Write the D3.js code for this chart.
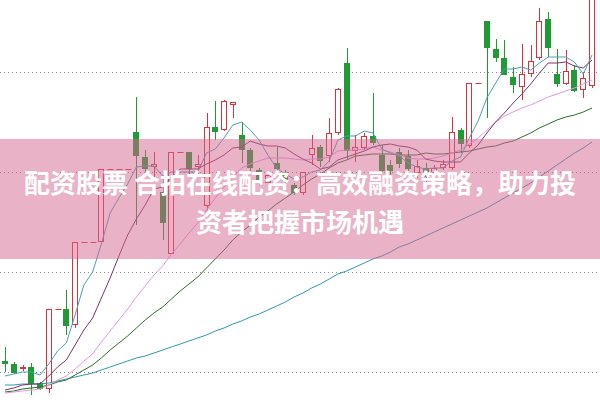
<!DOCTYPE html>
<html><head><meta charset="utf-8">
<script src="https://cdn.jsdelivr.net/npm/d3@7"></script>
<style>html,body{margin:0;padding:0;background:#fff;}svg{display:block;}</style>
</head><body>
<svg id="chart" width="600" height="400"></svg>
<script>
// Price values in index points (one point per screen unit of the original chart)
const days = d3.range(68);
const openP  = [39,36,32,33,17,12,91,91,76,158,158,159,231,231,231,268,243,234,208,147,248,248,234,195,273,271,296,265,250,230,218,237,228,215,208,246,253,245,268,337,250,253,264,245,235,248,244,228,232,228,233,233,270,255,317,379,351,342,323,314,327,343,381,326,317,330,311,315];
const highP  = [53,38,35,37,18,91,91,110,158,158,158,231,231,231,231,303,250,248,225,248,248,248,245,287,299,300,298,278,252,232,228,253,230,217,228,265,255,282,312,352,265,267,307,255,240,252,250,240,237,235,240,283,272,317,317,379,361,360,333,356,355,392,388,351,350,335,328,415];
const lowP   = [28,26,29,5,10,7,91,65,72,158,158,159,231,231,231,175,225,223,160,147,248,223,223,187,260,269,282,237,228,215,212,230,214,205,205,235,233,238,265,240,238,250,255,228,225,232,225,222,218,222,230,230,247,252,317,282,338,325,307,300,323,340,343,313,315,308,302,312];
const closeP = [37,28,33,17,12,91,91,75,158,158,158,231,231,231,231,245,232,236,178,248,248,232,236,273,269,299,298,251,233,220,225,232,220,208,228,252,240,267,311,250,253,264,258,230,230,237,232,234,224,232,236,268,257,317,317,353,343,326,316,326,339,379,353,317,329,310,322,410];

const ma5  = [24,26,28,28,25,36,49,57,85,115,128,156,187,202,216,233,234,234,224,228,228,228,228,247,251,262,275,278,270,260,245,232,226,221,223,228,230,239,260,264,264,269,267,251,247,244,237,233,231,232,232,239,243,262,279,302,317,331,331,333,330,337,343,343,343,338,326,345];
const ma10 = [10,12,15,16,16,24,33,40,55,70,82,102,122,144,165,181,195,211,213,222,231,231,231,236,240,245,252,253,259,256,254,254,252,246,241,237,231,233,240,243,246,249,253,255,256,254,253,250,241,239,238,238,238,247,255,267,278,287,297,306,316,327,337,337,338,334,332,340];
const ma20 = [7,8,9,10,11,15,20,24,31,39,46,58,69,80,91,103,114,125,134,146,156,167,177,190,202,213,223,232,236,239,242,242,242,241,240,241,241,243,249,250,250,251,253,250,248,245,242,241,241,242,244,247,250,256,262,270,278,284,288,292,295,299,303,306,309,312,316,320];
const ma30 = [8,9,11,12,13,15,18,20,25,30,35,42,50,57,64,72,80,87,93,101,109,116,123,132,141,150,160,168,175,183,189,196,202,208,215,221,226,232,237,240,244,245,246,246,246,245,245,245,247,246,246,247,248,249,251,253,254,257,259,263,267,272,276,280,283,285,288,292];
const ma60 = [15,15,16,16,16,17,19,21,23,25,27,30,33,36,39,42,44,47,50,53,56,59,62,65,69,72,76,79,83,86,90,94,98,103,107,112,116,121,126,129,133,137,141,144,148,153,156,160,164,168,172,176,180,184,188,192,197,202,207,212,217,223,229,235,241,247,252,258];

const gridLevels = [28, 128, 228, 328];
const titleLines = ["配资股票 合拍在线配资：高效融资策略，助力投", "资者把握市场机遇"];

const W = 600, H = 400;
const svg = d3.select("#chart");
const x = d3.scalePoint().domain(days).range([5, 592]);
const y = d3.scaleLinear().domain([0, 400]).range([H, 0]);

const UP = "#d8323c", DOWN = "#1f9a35";

// grid
svg.append("g").selectAll("line").data(gridLevels).join("line")
  .attr("x1", 0).attr("x2", W)
  .attr("y1", d => Math.round(y(d)) + 0.5).attr("y2", d => Math.round(y(d)) + 0.5)
  .attr("stroke", "#8a8a8a").attr("stroke-width", 1).attr("stroke-dasharray", "1,3");

const candles = days.map(i => ({i, o: openP[i], h: highP[i], l: lowP[i], c: closeP[i]}));
const cg = svg.append("g");
const bw = 5;
candles.forEach(d => {
  const cx = Math.round(x(d.i)) + 0.5;
  const up = d.c >= d.o;
  const col = up ? UP : DOWN;
  const top = y(Math.max(d.o, d.c)), bot = y(Math.min(d.o, d.c));
  if (d.h === d.l) {
    cg.append("line").attr("x1", cx - 3).attr("x2", cx + 3)
      .attr("y1", Math.round(top) + 0.5).attr("y2", Math.round(top) + 0.5)
      .attr("stroke", col).attr("stroke-width", 1);
    return;
  }
  cg.append("line").attr("x1", cx).attr("x2", cx)
    .attr("y1", y(d.h)).attr("y2", y(d.l)).attr("stroke", col).attr("stroke-width", 1);
  const hgt = Math.max(1, Math.round(bot) - Math.round(top));
  cg.append("rect").attr("x", cx - bw / 2 - 0.5).attr("y", Math.round(top) + 0.5)
    .attr("width", bw).attr("height", hgt)
    .attr("fill", up ? "#fff" : DOWN).attr("stroke", col).attr("stroke-width", 1);
});

// moving averages
const line = d3.line().x((v, i) => x(i)).y(v => y(v));
const maSeries = [
  {v: ma60, c: "#2f98a8"},
  {v: ma30, c: "#2e6b2e"},
  {v: ma20, c: "#e49ade"},
  {v: ma10, c: "#7a3466"},
  {v: ma5,  c: "#4aa0b2"}
];
svg.append("g").selectAll("path").data(maSeries).join("path")
  .attr("d", d => line(d.v)).attr("fill", "none")
  .attr("stroke", d => d.c).attr("stroke-width", 1);

// banner overlay
svg.append("rect").attr("x", 0).attr("y", 139).attr("width", W).attr("height", 120)
  .attr("fill", "rgb(211,101,143)").attr("fill-opacity", 0.5);

svg.append("g").selectAll("text").data(titleLines).join("text")
  .attr("x", W / 2).attr("y", (d, i) => 193 + i * 39)
  .attr("text-anchor", "middle")
  .attr("font-family", "'Noto Sans CJK SC', 'Noto Sans', sans-serif")
  .attr("font-weight", "bold").attr("font-size", 26)
  .attr("fill", "#fff").text(d => d);
</script>
</body></html>
